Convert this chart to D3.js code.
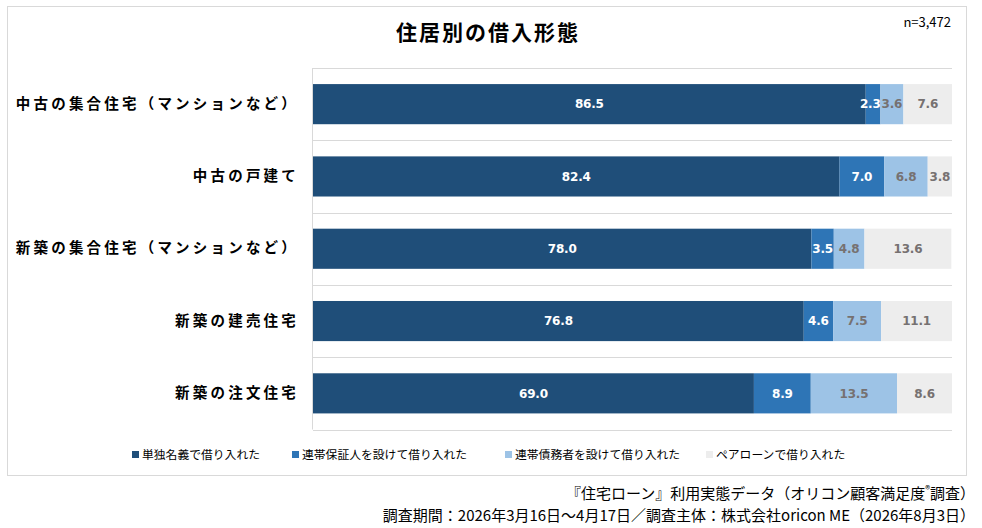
<!DOCTYPE html>
<html><head><meta charset="utf-8">
<script src="https://cdn.jsdelivr.net/npm/d3@7"></script>
<style>
body{margin:0;background:#fff;}
svg{display:block;font-family:"Noto Sans CJK JP","Noto Sans",sans-serif;}
</style></head>
<body><svg id="c" width="982" height="528"></svg>
<script>
const categories = ["中古の集合住宅（マンションなど）","中古の戸建て","新築の集合住宅（マンションなど）","新築の建売住宅","新築の注文住宅"];
const seriesNames = ["単独名義で借り入れた","連帯保証人を設けて借り入れた","連帯債務者を設けて借り入れた","ペアローンで借り入れた"];
const single = [86.5, 82.4, 78.0, 76.8, 69.0];
const guarantor = [2.3, 7.0, 3.5, 4.6, 8.9];
const jointDebtor = [3.6, 6.8, 4.8, 7.5, 13.5];
const pairLoan = [7.6, 3.8, 13.6, 11.1, 8.6];
const colors = ["#1f4e79","#2e75b6","#9dc3e6","#ededed"];
const labelColors = ["#ffffff","#ffffff","#767171","#767171"];

const svg = d3.select("#c");
const seriesVals = [single, guarantor, jointDebtor, pairLoan];
const rows = categories.map((c,i)=>{const o={cat:c}; seriesNames.forEach((s,j)=>o[s]=seriesVals[j][i]); return o;});
const stacked = d3.stack().keys(seriesNames)(rows);

// outer frame
svg.append("rect").attr("x",7.5).attr("y",6.5).attr("width",959).attr("height",469)
  .attr("fill","#fff").attr("stroke","#d9d9d9");

const x = d3.scaleLinear().domain([0,100]).range([313,952]);
const y = d3.scaleBand().domain(categories).range([68,429.5]).paddingInner(0.445).paddingOuter(0.2225);

// gridlines (category boundaries)
const bounds = d3.range(categories.length+1).map(i=>68 + i*(429.5-68)/categories.length);
svg.append("g").selectAll("line").data(bounds).join("line")
  .attr("x1",313).attr("x2",952).attr("y1",d=>Math.round(d)+0.5).attr("y2",d=>Math.round(d)+0.5)
  .attr("stroke","#d9d9d9");
svg.append("line").attr("x1",312.5).attr("x2",312.5).attr("y1",68).attr("y2",429.5).attr("stroke","#d9d9d9");

// bars
const g = svg.append("g");
const labelSel = [];
stacked.forEach((s,j)=>{
  g.append("g").selectAll("rect").data(s).join("rect")
    .attr("x",d=>x(d[0])).attr("width",d=>x(d[1])-x(d[0]))
    .attr("y",d=>y(d.data.cat)).attr("height",y.bandwidth())
    .attr("fill",colors[j]);
  labelSel.push(g.append("g").selectAll("text").data(s).join("text")
    .attr("x",d=>(x(d[0])+x(d[1]))/2).attr("y",d=>y(d.data.cat)+y.bandwidth()/2)
    .attr("dy","0.36em").attr("text-anchor","middle")
    .attr("font-family","'DejaVu Sans',Verdana,sans-serif")
    .attr("font-size",12).attr("font-weight","bold").attr("fill",labelColors[j])
    .attr("letter-spacing","-0.2px")
    .text(d=>(d[1]-d[0]).toFixed(1)));
});
// nudge labels that would collide with their right neighbour
categories.forEach((c,i)=>{
  for(let j=labelSel.length-2;j>=0;j--){
    const a = labelSel[j].nodes()[i], b = labelSel[j+1].nodes()[i];
    const ab = a.getBBox(), bb = b.getBBox();
    const over = (ab.x+ab.width+1) - bb.x;
    if(over>0) a.setAttribute("x", +a.getAttribute("x") - over);
  }
});

// category axis
const yAxis = svg.append("g").attr("transform","translate(299,0)")
  .call(d3.axisLeft(y).tickSize(0).tickPadding(0));
yAxis.select(".domain").remove();
yAxis.selectAll("text").attr("font-size",14.5).attr("font-weight","bold").attr("fill","#000")
  .attr("font-family","'Noto Sans CJK JP',sans-serif").attr("letter-spacing","3.2px");

// title
svg.append("text").attr("x",488).attr("y",40).attr("text-anchor","middle")
  .attr("font-size",21).attr("font-weight","bold").attr("fill","#000").attr("letter-spacing","2px")
  .text("住居別の借入形態");
svg.append("text").attr("x",951).attr("y",27).attr("text-anchor","end")
  .attr("font-size",13).attr("fill","#000").text("n=3,472");

// legend
const legX = [132, 292, 505, 706];
const leg = svg.append("g");
seriesNames.forEach((s,j)=>{
  leg.append("rect").attr("x",legX[j]).attr("y",451).attr("width",7).attr("height",7).attr("fill",colors[j]);
  leg.append("text").attr("x",legX[j]+10).attr("y",459).attr("font-size",11.8).attr("fill","#000").text(s);
});

// footer
const foot = svg.append("g").attr("font-size",15).attr("fill","#000").attr("text-anchor","end");
const f1 = foot.append("text").attr("x",975).attr("y",499);
f1.append("tspan").text("『住宅ローン』利用実態データ（オリコン顧客満足度");
f1.append("tspan").attr("font-size",10).attr("dy",-6).text("®");
f1.append("tspan").attr("dy",6).text("調査）");
foot.append("text").attr("x",975).attr("y",521).text("調査期間：2026年3月16日～4月17日／調査主体：株式会社oricon ME（2026年8月3日）");
</script></body></html>
